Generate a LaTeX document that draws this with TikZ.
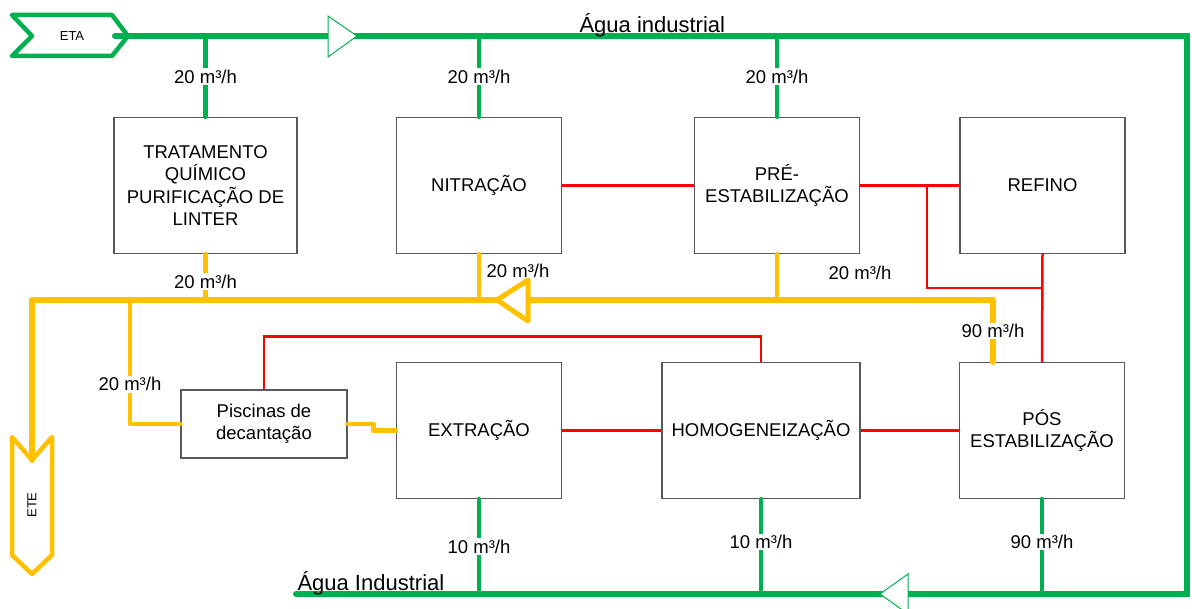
\documentclass[tikz,border=0pt]{standalone}
\usepackage{fontspec}
\setmainfont{Liberation Sans}
\definecolor{agua}{HTML}{00B050}
\definecolor{efluente}{HTML}{FFC000}
\definecolor{liga}{HTML}{FF0000}
\begin{document}
\begin{tikzpicture}[x=1pt, y=-1pt, line cap=round,
        proc/.style={draw=black!65, line width=1.2pt, fill=white,
                     minimum width=165pt, minimum height=136pt,
                     inner sep=0pt, align=center,
                     font=\fontsize{18.5}{22.5}\selectfont},
        vazao/.style={fill=white, inner sep=1.5pt,
                      font=\fontsize{18.5}{22}\selectfont},
        linhaagua/.style={draw=agua, line width=6pt},
        ramoagua/.style={draw=agua, line width=4.5pt},
        linhaefl/.style={draw=efluente, line width=6pt},
        ramoefl/.style={draw=efluente, line width=4.5pt},
        lig/.style={draw=liga, line width=2.5pt, line cap=butt}]
        \clip (0,0) rectangle (1192,609);
        % processos
        \node[proc, minimum width=183pt] (trat) at (205.5,185.5)
            {TRATAMENTO\\QUÍMICO\\PURIFICAÇÃO DE\\LINTER};
        \node[proc] (nitr) at (479,185.5) {NITRAÇÃO};
        \node[proc] (pre) at (777,185.5) {PRÉ-\\ESTABILIZAÇÃO};
        \node[proc] (refino) at (1042.5,185.5) {REFINO};
        \node[proc, minimum width=166pt, minimum height=68pt] (pisc) at (264,424)
            {Piscinas de\\decantação};
        \node[proc] (extr) at (479,430.5) {EXTRAÇÃO};
        \node[proc, minimum width=198pt] (homog) at (761,430.5) {HOMOGENEIZAÇÃO};
        \node[proc] (pos) at (1042,430.5) {PÓS\\ESTABILIZAÇÃO};
        % agua industrial
        \coordinate (eta) at (115,36);
        \coordinate (cantoNE) at (1187,36);
        \coordinate (cantoSE) at (1187,594);
        \coordinate (fimagua) at (296,594);
        \draw[draw=agua, line width=4.5pt, line join=round]
            (12,15) -- (112,15) -- (128,36) -- (112,56) -- (12,56) -- (32,36) -- cycle;
        \node[font=\fontsize{13}{15}\selectfont] (etatxt) at (72,36) {ETA};
        \draw[linhaagua, line join=miter] (eta) -- (cantoNE) -- (cantoSE) -- (fimagua);
        \draw[draw=agua, line width=1pt, fill=white] (357,36) -- (328,16) -- (328,57) -- cycle;
        \draw[draw=agua, line width=1pt, fill=white] (880,594) -- (908,574) -- (908,614) -- cycle;
        \node[anchor=base west, font=\fontsize{22}{24}\selectfont] (agua1) at (576,33) {Água industrial};
        \node[anchor=base west, font=\fontsize{22}{24}\selectfont] (agua2) at (294,590) {Água Industrial};
        \draw[ramoagua] (trat.north) -- (trat.north |- eta) node[vazao, pos=.5] (va1) {20 m³/h};
        \draw[ramoagua] (nitr.north) -- (nitr.north |- eta) node[vazao, pos=.5] (va2) {20 m³/h};
        \draw[ramoagua] (pre.north) -- (pre.north |- eta) node[vazao, pos=.5] (va3) {20 m³/h};
        \draw[ramoagua] (extr.south) -- (extr.south |- fimagua) node[vazao, pos=.5] (va4) {10 m³/h};
        \draw[ramoagua] (homog.south) -- (homog.south |- fimagua) node[vazao, pos=.45] (va5) {10 m³/h};
        \draw[ramoagua] (pos.south) -- (pos.south |- fimagua) node[vazao, pos=.45] (va6) {90 m³/h};
        % efluente
        \coordinate (saida) at (993,362);
        \coordinate (cantoNO) at (32,300);
        \coordinate (ete) at (32,460);
        \coordinate (desvio) at (130,300);
        \draw[linhaefl, line join=round] (saida) -- (saida |- cantoNO) -- (cantoNO) -- (ete);
        \node[vazao] (ve1) at (993,331) {90 m³/h};
        \draw[draw=efluente, line width=4.5pt, line join=round]
            (12,437) -- (32,460) -- (52,437) -- (52,555) -- (32,574) -- (12,555) -- cycle;
        \node[rotate=90, font=\fontsize{13}{15}\selectfont] (etetxt) at (32,505) {ETE};
        \draw[draw=efluente, line width=5pt, fill=white, line join=round]
            (497,300) -- (528,280) -- (528,321) -- cycle;
        \draw[ramoefl] (trat.south) -- (trat.south |- cantoNO) node[vazao, pos=.6] (ve2) {20 m³/h};
        \draw[ramoefl] (nitr.south) -- (nitr.south |- cantoNO);
        \node[font=\fontsize{18.5}{22}\selectfont] (ve3) at (518,271) {20 m³/h};
        \draw[ramoefl] (pre.south) -- (pre.south |- cantoNO);
        \node[font=\fontsize{18.5}{22}\selectfont] (ve4) at (860,273) {20 m³/h};
        \draw[ramoefl, line join=round] (desvio) |- (pisc.west) node[vazao, pos=.34] (ve5) {20 m³/h};
        \draw[ramoefl, line join=round] (pisc.east) -- ++(26,0) -- ++(0,6.5) -- (extr.west);
        % ligacoes
        \coordinate (derivR) at (927,185.5);
        \coordinate (juntaR) at (1042.5,288);
        \draw[lig] (nitr.east) -- (pre.west);
        \draw[lig] (pre.east) -- (refino.west);
        \draw[lig] (derivR) |- (juntaR);
        \draw[lig] (refino.south) -- (pos.north);
        \draw[lig] (pisc.north) -- ++(0,-53) -| (homog.north);
        \draw[lig] (extr.east) -- (homog.west);
        \draw[lig] (homog.east) -- (pos.west);
    \end{tikzpicture}
\end{document}
